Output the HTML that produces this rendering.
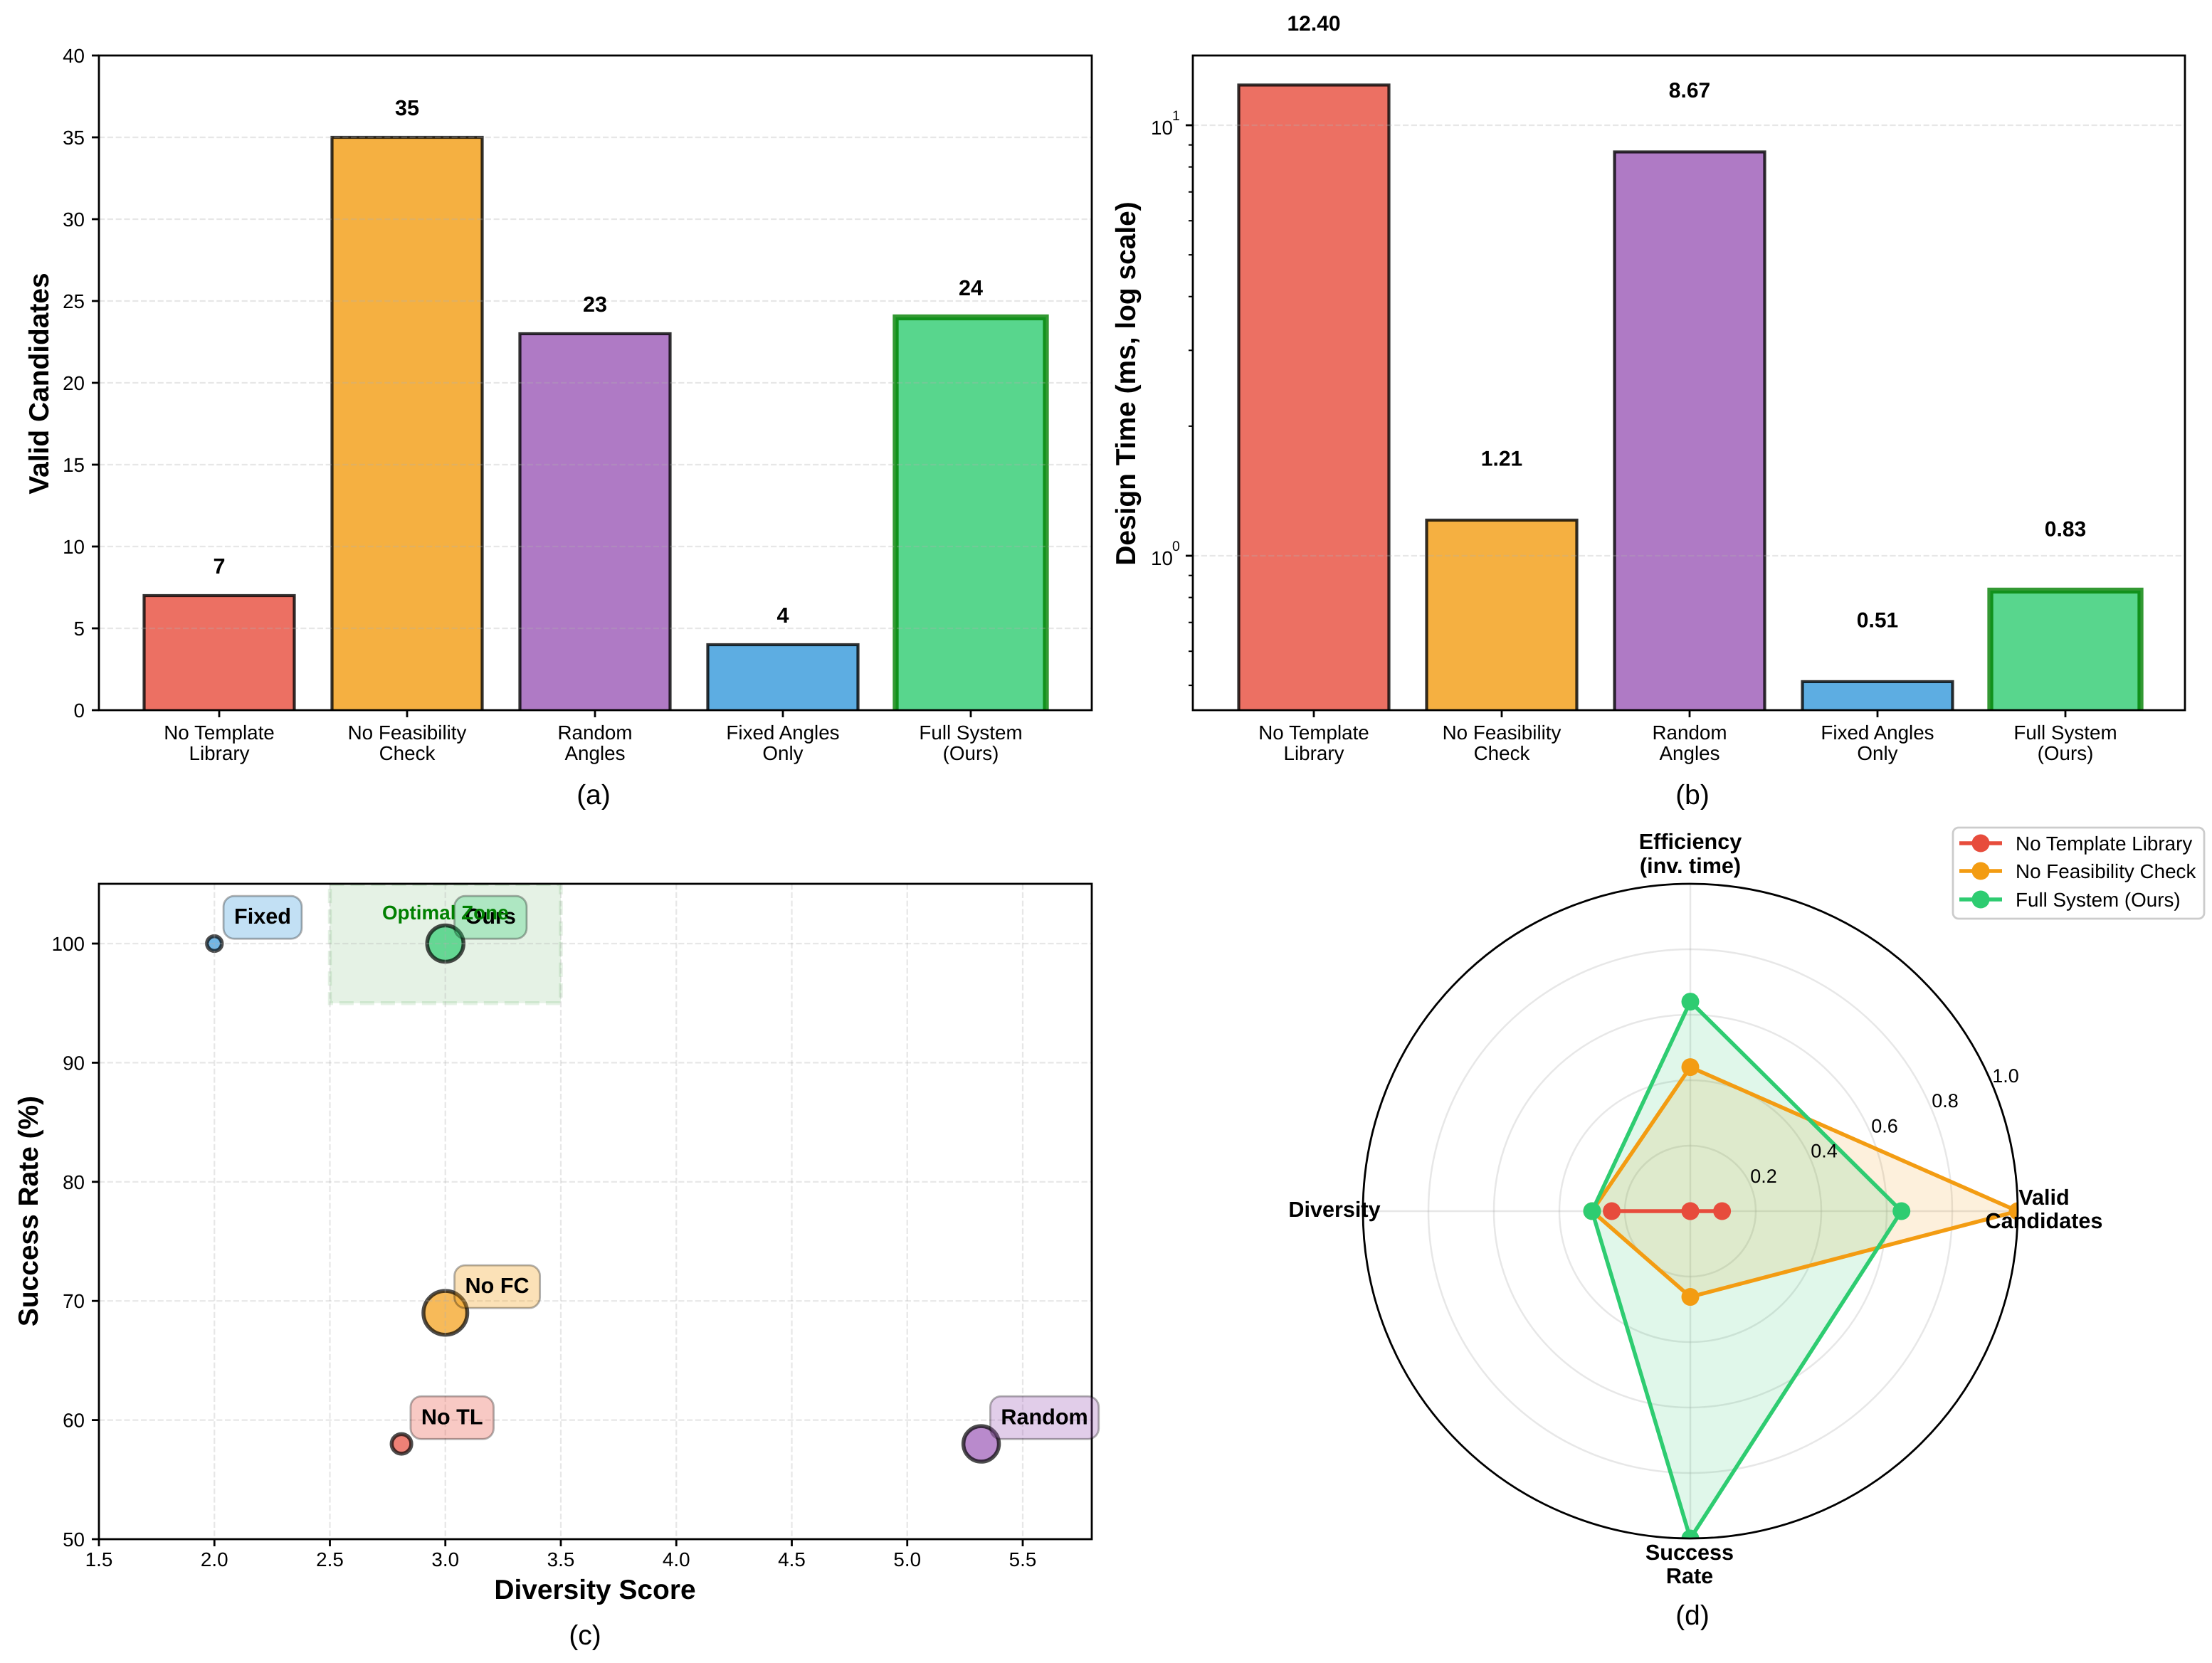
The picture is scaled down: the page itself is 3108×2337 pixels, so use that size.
<!DOCTYPE html>
<html lang="en">
<head>
<meta charset="utf-8">
<title>Component comparison charts</title>
<style>
  html, body { margin: 0; padding: 0; background: #fff; width: 3108px; height: 2337px; overflow: hidden; }
  svg { display: block; font-family: "Liberation Sans", Arial, sans-serif; text-rendering: geometricPrecision; }
  .bold { font-weight: 700; }
</style>
</head>
<body>
<svg id="figure" xmlns="http://www.w3.org/2000/svg" width="3108" height="2337" viewBox="0 0 3108 2337">
  <defs>
    <clipPath id="clip-a"><rect x="139" y="78" width="1395" height="920"/></clipPath>
    <clipPath id="clip-b"><rect x="1676" y="78" width="1394" height="920"/></clipPath>
    <clipPath id="clip-c"><rect x="139" y="1242" width="1395" height="921"/></clipPath>
    <clipPath id="clip-d"><circle cx="2375" cy="1702" r="460"/></clipPath>
  </defs>
  <rect width="3108" height="2337" fill="#fff"/>

  <g id="panel-a"></g>
  <rect x="139" y="78" width="1395" height="920" fill="none" stroke="#000" stroke-width="2.8"/>
  <text class="bold" font-size="38.9" text-anchor="middle" transform="translate(68,539) rotate(-90)">Valid Candidates</text>
  <text font-size="38.9" text-anchor="middle" x="834" y="1130">(a)</text>

  <g id="panel-b"></g>
  <rect x="1676" y="78" width="1394" height="920" fill="none" stroke="#000" stroke-width="2.8"/>
  <text class="bold" font-size="38.9" text-anchor="middle" transform="translate(1595,539) rotate(-90)">Design Time (ms, log scale)</text>
  <text font-size="38.9" text-anchor="middle" x="2378" y="1130">(b)</text>

  <g id="panel-c"></g>
  <text class="bold" font-size="38.9" text-anchor="middle" transform="translate(53,1702) rotate(-90)">Success Rate (%)</text>
  <text class="bold" font-size="38.9" text-anchor="middle" x="836" y="2247">Diversity Score</text>
  <text font-size="38.9" text-anchor="middle" x="822" y="2311">(c)</text>

  <g id="panel-d"></g>
  <text font-size="38.9" text-anchor="middle" x="2378" y="2283">(d)</text>

  <g>
    <rect x="2744" y="1163" width="353" height="128" rx="8" fill="#fff" fill-opacity="0.8" stroke="#ccc" stroke-width="2.8"/>
    <g>
      <line x1="2753" x2="2813" y1="1185" y2="1185" stroke="#e74c3c" stroke-width="5.5"/>
      <circle cx="2783" cy="1185" r="12.5" fill="#e74c3c"/>
      <text x="2832" y="1195" font-size="27.8">No Template Library</text>
    </g>
    <g>
      <line x1="2753" x2="2813" y1="1224" y2="1224" stroke="#f39c12" stroke-width="5.5"/>
      <circle cx="2783" cy="1224" r="12.5" fill="#f39c12"/>
      <text x="2832" y="1234" font-size="27.8">No Feasibility Check</text>
    </g>
    <g>
      <line x1="2753" x2="2813" y1="1264" y2="1264" stroke="#2ecc71" stroke-width="5.5"/>
      <circle cx="2783" cy="1264" r="12.5" fill="#2ecc71"/>
      <text x="2832" y="1274" font-size="27.8">Full System (Ours)</text>
    </g>
  </g>
</svg>

<script>
// ---- chart data ----
const categoryFirstLines = ['No Template', 'No Feasibility', 'Random', 'Fixed Angles', 'Full System'];
const categorySecondLines = ['Library', 'Check', 'Angles', 'Only', '(Ours)'];
const validCandidates = [7, 35, 23, 4, 24];
const designTimeMs = [12.40, 1.21, 8.67, 0.51, 0.83];
const designTimeLabels = ['12.40', '1.21', '8.67', '0.51', '0.83'];
const validTicks = [0, 5, 10, 15, 20, 25, 30, 35, 40];
const logMajorExponents = [0, 1];
const logMinorTicks = [0.5, 0.6, 0.7, 0.8, 0.9, 2, 3, 4, 5, 6, 7, 8, 9];
const diversityScores = [2.81, 3.0, 5.32, 2.0, 3.0];
const successRates = [58, 69, 58, 100, 100];
const scatterLabels = ['No TL', 'No FC', 'Random', 'Fixed', 'Ours'];
const diversityTicks = [1.5, 2.0, 2.5, 3.0, 3.5, 4.0, 4.5, 5.0, 5.5];
const successTicks = [50, 60, 70, 80, 90, 100];
const radarTicks = [0.2, 0.4, 0.6, 0.8, 1.0];
const radarAnglesDeg = [0, 90, 180, 270];
const radarNoTemplate = [0.097, 0, 0.24, 0];
const radarNoFeasibility = [1, 0.44, 0.30, 0.262];
const radarFullSystem = [0.645, 0.64, 0.30, 1];

// ---- styles ----
const barColors = ['#e74c3c', '#f39c12', '#9b59b6', '#3498db', '#2ecc71'];
const radarColors = ['#e74c3c', '#f39c12', '#2ecc71'];

// ---- helpers ----
const SVGNS = 'http://www.w3.org/2000/svg';
function make(parent, tag, attrs, text) {
  const el = document.createElementNS(SVGNS, tag);
  for (const k in attrs) el.setAttribute(k, attrs[k]);
  if (text !== undefined) el.textContent = text;
  parent.appendChild(el);
  return el;
}
const GRID = { stroke: '#b0b0b0', 'stroke-opacity': 0.3, 'stroke-width': 2.2, 'stroke-dasharray': '8.2 3.6' };
const TICK_FONT = 27.8;
const AXIS_BOTTOM = 998;

// ---- axis functions ----
const barX = i => 308 + i * 264;
const barXb = i => 1846 + i * 264;
const yValid = v => AXIS_BOTTOM - v * 23;
const yLog = v => 781 - 605 * Math.log10(v);
const xDiv = v => 139 + (v - 1.5) * 324.5;
const ySucc = v => 2163 - (v - 50) * 16.74;
const radarCx = 2375, radarCy = 1702, radarR = 460;
const polarX = (r, deg) => radarCx + r * radarR * Math.cos(deg * Math.PI / 180);
const polarY = (r, deg) => radarCy - r * radarR * Math.sin(deg * Math.PI / 180);

function drawBars(group, xFn, yFn, values, clipId, baseY) {
  const clip = make(group, 'g', { 'clip-path': 'url(#' + clipId + ')' });
  values.forEach((v, i) => {
    const top = yFn(v);
    const full = i === 4;
    const bar = make(clip, 'rect', {
      x: xFn(i) - 105.5, y: top, width: 211, height: baseY - top + 10,
      fill: barColors[i], 'fill-opacity': 0.8,
      stroke: full ? '#008000' : '#000', 'stroke-opacity': 0.8, 'stroke-width': full ? 8.3 : 4.2
    });
    
    
  });
}

function drawCategoryAxis(group, xFn) {
  categoryFirstLines.forEach((c, i) => {
    const x = xFn(i);
    const tick = make(group, 'line', { x1: x, x2: x, y1: AXIS_BOTTOM, y2: AXIS_BOTTOM + 10, stroke: '#000', 'stroke-width': 2.8 });
    
    
    const label = make(group, 'text', { 'font-size': TICK_FONT, 'text-anchor': 'middle' });
    
    
    make(label, 'tspan', { x: x, y: 1039 }, c);
    make(label, 'tspan', { x: x, y: 1068 }, categorySecondLines[i]);
  });
}

// ---- panel a ----
(function () {
  const g = document.getElementById('panel-a');
  drawBars(g, barX, yValid, validCandidates, 'clip-a', AXIS_BOTTOM);
  validTicks.forEach(t => {
    const y = yValid(t);
    if (t > 0 && t < 40) {
      const grid = make(g, 'line', Object.assign({ x1: 139, x2: 1534, y1: y, y2: y }, GRID));
      
      
    }
    const tick = make(g, 'line', { x1: 129, x2: 139, y1: y, y2: y, stroke: '#000', 'stroke-width': 2.8 });
    
    
    const label = make(g, 'text', { x: 119, y: y + 10, 'font-size': TICK_FONT, 'text-anchor': 'end' }, String(t));
    
    
  });
  drawCategoryAxis(g, barX);
  validCandidates.forEach((v, i) => {
    const label = make(g, 'text', { x: barX(i), y: yValid(v) - 31, 'font-size': 30.6, 'font-weight': 700, 'text-anchor': 'middle' }, String(v));
    
    
  });
})();

// ---- panel b ----
(function () {
  const g = document.getElementById('panel-b');
  drawBars(g, barXb, yLog, designTimeMs, 'clip-b', AXIS_BOTTOM);
  logMajorExponents.forEach(e => {
    const y = yLog(Math.pow(10, e));
    const grid = make(g, 'line', Object.assign({ x1: 1676, x2: 3070, y1: y, y2: y }, GRID));
    
    
    const tick = make(g, 'line', { x1: 1666, x2: 1676, y1: y, y2: y, stroke: '#000', 'stroke-width': 2.8 });
    
    
    const label = make(g, 'text', { x: 1617, y: y + 13, 'font-size': TICK_FONT }, '10');
    
    
    const exp = make(g, 'text', { x: 1647, y: y - 7, 'font-size': 19.5 }, String(e));
    
    
  });
  logMinorTicks.forEach(v => {
    const y = yLog(v);
    const tick = make(g, 'line', { x1: 1670, x2: 1676, y1: y, y2: y, stroke: '#000', 'stroke-width': 2 });
    
    
  });
  drawCategoryAxis(g, barXb);
  designTimeMs.forEach((v, i) => {
    const label = make(g, 'text', { x: barXb(i), y: yLog(v) - 76.5, 'font-size': 30, 'font-weight': 700, 'text-anchor': 'middle' }, designTimeLabels[i]);
    
    
  });
})();

// ---- panel c ----
(function () {
  const g = document.getElementById('panel-c');
  const clip = make(g, 'g', { 'clip-path': 'url(#clip-c)' });
  const zone = make(clip, 'rect', {
    x: xDiv(2.5), y: ySucc(105), width: xDiv(3.5) - xDiv(2.5), height: ySucc(95) - ySucc(105),
    fill: '#008000', 'fill-opacity': 0.1, stroke: '#008000', 'stroke-opacity': 0.1,
    'stroke-width': 5.5, 'stroke-dasharray': '20 9'
  });
  
  

  const order = [0, 1, 2, 3, 4];
  order.forEach(i => {
    const d = 2.78 * Math.sqrt(14 * validCandidates[i]);
    const pt = make(g, 'circle', {
      cx: xDiv(diversityScores[i]), cy: ySucc(successRates[i]), r: d / 2,
      fill: barColors[i], 'fill-opacity': 0.7, stroke: '#000', 'stroke-opacity': 0.7, 'stroke-width': 5.5
    });
    
    
  });

  diversityTicks.forEach(t => {
    const x = xDiv(t);
    if (t > 1.5) {
      const grid = make(g, 'line', Object.assign({ x1: x, x2: x, y1: 1242, y2: 2163 }, GRID));
      
      
    }
    const tick = make(g, 'line', { x1: x, x2: x, y1: 2163, y2: 2173, stroke: '#000', 'stroke-width': 2.8 });
    
    
    const label = make(g, 'text', { x: x, y: 2201, 'font-size': TICK_FONT, 'text-anchor': 'middle' }, t.toFixed(1));
    
    
  });
  successTicks.forEach(t => {
    const y = ySucc(t);
    if (t > 50) {
      const grid = make(g, 'line', Object.assign({ x1: 139, x2: 1534, y1: y, y2: y }, GRID));
      
      
    }
    const tick = make(g, 'line', { x1: 129, x2: 139, y1: y, y2: y, stroke: '#000', 'stroke-width': 2.8 });
    
    
    const label = make(g, 'text', { x: 119, y: y + 10, 'font-size': TICK_FONT, 'text-anchor': 'end' }, String(t));
    
    
  });

  const frame = make(g, 'rect', { x: 139, y: 1242, width: 1395, height: 921, fill: 'none', stroke: '#000', 'stroke-width': 2.8 });
  
  

  order.forEach(i => {
    const tx = xDiv(diversityScores[i]) + 27.8;
    const ty = ySucc(successRates[i]) - 27.8;
    const box = make(g, 'rect', {
      x: tx - 15, y: ty - 39, width: 30, height: 60, rx: 15, ry: 15,
      fill: barColors[i], 'fill-opacity': 0.3, stroke: '#000', 'stroke-opacity': 0.3, 'stroke-width': 2.8
    });
    
    
    const label = make(g, 'text', { x: tx, y: ty, 'font-size': 30.6, 'font-weight': 700 }, scatterLabels[i]);
    
    
    box.setAttribute('width', label.getComputedTextLength() + 30);
  });

  const zoneLabel = make(g, 'text', { x: xDiv(3.0), y: 1292, 'font-size': 27.8, 'font-weight': 700, 'text-anchor': 'middle', fill: '#008000' }, 'Optimal Zone');
  
  
})();

// ---- panel d ----
(function () {
  const g = document.getElementById('panel-d');
  radarTicks.forEach(t => {
    if (t < 1) {
      const ring = make(g, 'circle', { cx: radarCx, cy: radarCy, r: t * radarR, fill: 'none', stroke: '#b0b0b0', 'stroke-opacity': 0.3, 'stroke-width': 2.5 });
      
      
    }
  });
  radarAnglesDeg.forEach(a => {
    const spoke = make(g, 'line', { x1: radarCx, y1: radarCy, x2: polarX(1, a), y2: polarY(1, a), stroke: '#b0b0b0', 'stroke-opacity': 0.3, 'stroke-width': 2.5 });
    
    
  });

  const clip = make(g, 'g', { 'clip-path': 'url(#clip-d)' });
  const seriesList = [radarNoTemplate, radarNoFeasibility, radarFullSystem];
  const seriesNames = ['no-template-library', 'no-feasibility-check', 'full-system'];
  const pointsOf = vals => vals.map((v, i) => polarX(v, radarAnglesDeg[i]) + ',' + polarY(v, radarAnglesDeg[i])).join(' ');
  // all filled areas sit below all lines and markers
  seriesList.forEach((vals, s) => {
    const area = make(clip, 'polygon', { points: pointsOf(vals), fill: radarColors[s], 'fill-opacity': 0.15, stroke: 'none' });
    
    
  });
  seriesList.forEach((vals, s) => {
    const outline = make(clip, 'polygon', { points: pointsOf(vals), fill: 'none', stroke: radarColors[s], 'stroke-width': 5.5, 'stroke-linejoin': 'round' });
    
    
    vals.forEach((v, i) => {
      const dot = make(clip, 'circle', { cx: polarX(v, radarAnglesDeg[i]), cy: polarY(v, radarAnglesDeg[i]), r: 12.5, fill: radarColors[s] });
      
      
    });
  });

  const outer = make(g, 'circle', { cx: radarCx, cy: radarCy, r: radarR, fill: 'none', stroke: '#000', 'stroke-width': 2.8 });
  
  

  radarTicks.forEach(t => {
    const label = make(g, 'text', {
      x: polarX(t, 22.5) + 18, y: polarY(t, 22.5) - 5, 'font-size': 27, 'text-anchor': 'middle'
    }, t.toFixed(1));
    
    
  });

  const axisLabels = [
    { lines: ['Valid', 'Candidates'], x: 2872, y: [1693, 1726] },
    { lines: ['Efficiency', '(inv. time)'], x: 2375, y: [1193, 1227] },
    { lines: ['Diversity'], x: 1875, y: [1710] },
    { lines: ['Success', 'Rate'], x: 2374, y: [2192, 2225] }
  ];
  axisLabels.forEach(item => {
    const label = make(g, 'text', { 'font-size': 30.6, 'font-weight': 700, 'text-anchor': 'middle' });
    
    
    item.lines.forEach((line, i) => make(label, 'tspan', { x: item.x, y: item.y[i] }, line));
  });
})();
</script>
</body>
</html>
